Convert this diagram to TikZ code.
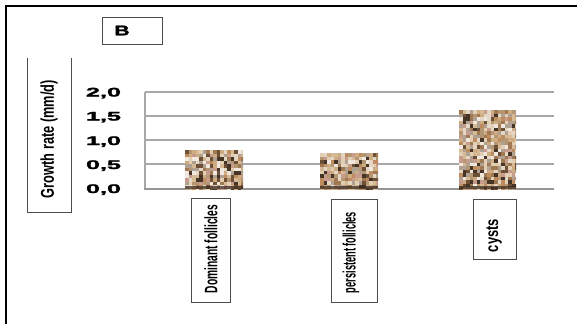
\documentclass[tikz,border=0pt]{standalone}
\usepackage{fontspec}
\setmainfont{Liberation Sans}
\newfontfamily\heavy{Liberation Sans Bold}[FakeBold=1.6]
\definecolor{gridc}{RGB}{168,168,168}
\definecolor{axisc}{RGB}{150,150,150}
\definecolor{mos1}{RGB}{205,172,130}
\definecolor{mos2}{RGB}{226,206,178}
\definecolor{mos3}{RGB}{160,120,82}
\definecolor{mos4}{RGB}{110,80,55}
\definecolor{mos5}{RGB}{240,232,222}
\definecolor{mos6}{RGB}{176,160,146}
\definecolor{mos7}{RGB}{200,156,140}
\definecolor{mos8}{RGB}{70,52,38}
\definecolor{mos9}{RGB}{190,140,95}
\definecolor{mos10}{RGB}{214,186,150}
\definecolor{mos11}{RGB}{180,150,115}
\definecolor{mos12}{RGB}{228,214,196}
\definecolor{mosdark}{RGB}{60,45,35}
\tikzset{
  lbox/.style={draw=black!70,line width=0.8pt},
  tick/.style={anchor=base,font=\fontsize{12.5}{12.5}\heavy,inner sep=0pt},
  cat/.style={rotate=90,inner sep=0pt,font=\fontsize{18}{18}\selectfont\bfseries},
}
\newcommand\mosaicbar[4]{%
  \begin{scope}[shift={(#1,#2)}]
    \clip (0,0) rectangle (#3,#4);
    \fill[mos1] (0,0) rectangle (#3,#4);
    \foreach \xx in {0,3.5,...,#3} {
      \foreach \yy in {0,3.5,...,#4} {
        \pgfmathrandominteger{\k}{1}{12}
        \fill[mos\k] (\xx,\yy) rectangle ++(3.5,3.5);
      }
    }
    \fill[mosdark,opacity=0.75] (0,#4-3) rectangle (#3,#4);
  \end{scope}}
\begin{document}
\begin{tikzpicture}[x=1pt,y=-1pt]
\useasboundingbox (0,0) rectangle (577,324);
\fill[white] (0,0) rectangle (577,324);
% outer frame (top and left)
\draw[line width=2pt] (6,324) -- (6,6) -- (577,6);
% panel letter box
\node[lbox,minimum width=60pt,minimum height=27pt,inner sep=0pt] (pbox) at (132,30.5) {};
\node[font=\fontsize{14}{14}\heavy,inner sep=0pt] (plabel) at (122,30.5) {\scalebox{1.5}[1]{B}};
% y title box
\draw[lbox] (27,58) -- (27,212) -- (71,212) -- (71,58);
\node[rotate=90,inner sep=0pt,font=\fontsize{18.5}{18.5}\selectfont\bfseries] (ytitle) at (49,139) {\resizebox{118pt}{\height}{Growth rate (mm/d)}};
% grid
\foreach \yy in {92,116,140,164} {
  \draw[gridc,line width=1.4pt] (145,\yy) -- (554,\yy);
}
\draw[gridc,line width=1.4pt] (145,92) -- (145,189);
\draw[axisc,line width=1.8pt] (144.3,189) -- (554,189);
% tick labels
\node[tick] (t20) at (103.5,96.5) {\resizebox{35pt}{\height}{2,0}};
\node[tick] (t15) at (103.5,120.5) {\resizebox{35pt}{\height}{1,5}};
\node[tick] (t10) at (103.5,145) {\resizebox{35pt}{\height}{1,0}};
\node[tick] (t05) at (103.5,169) {\resizebox{35pt}{\height}{0,5}};
\node[tick] (t00) at (103.5,193) {\resizebox{35pt}{\height}{0,0}};
% bars
\pgfmathsetseed{4711}
\mosaicbar{185}{150}{58}{39}
\mosaicbar{320}{153}{58}{36}
\mosaicbar{459}{110}{57}{79}
% category labels
\node[lbox,minimum width=39pt,minimum height=104pt,inner sep=0pt] (c1box) at (210.5,250) {};
\node[cat] (c1) at (211,249) {\resizebox{88pt}{\height}{Dominant follicles}};
\node[lbox,minimum width=46pt,minimum height=103pt,inner sep=0pt] (c2box) at (354,250.5) {};
\node[cat] (c2) at (351,252.5) {\resizebox{81pt}{\height}{persistent follicles}};
\node[lbox,minimum width=43pt,minimum height=60pt,inner sep=0pt] (c3box) at (494.5,229) {};
\node[cat] (c3) at (494,235.5) {\resizebox{33pt}{\height}{cysts}};
\end{tikzpicture}
\end{document}
